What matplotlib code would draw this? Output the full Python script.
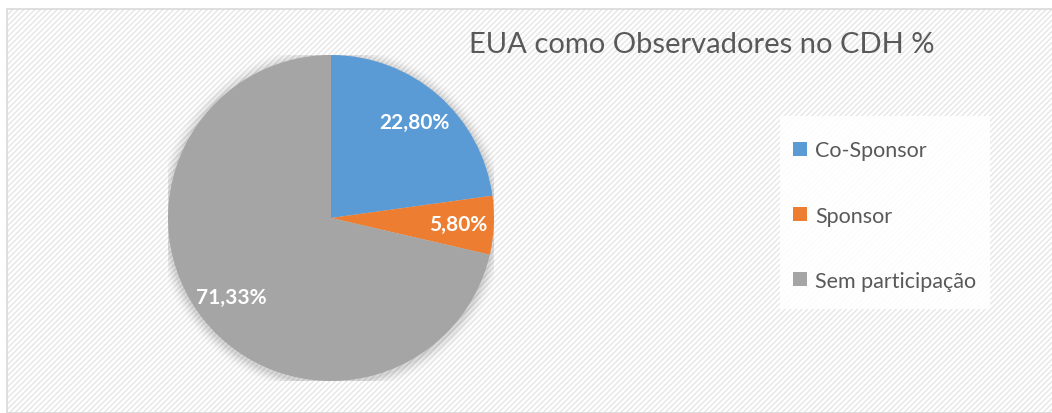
import matplotlib.pyplot as plt
from matplotlib.patches import Rectangle, Patch, Circle

# data
labels = ["Co-Sponsor", "Sponsor", "Sem participação"]
values = [22.80, 5.80, 71.33]
colors = ["#5b9bd5", "#ed7d31", "#a5a5a5"]
title = "EUA como Observadores no CDH %"

plt.rcParams["font.family"] = ["Lato", "DejaVu Sans"]
plt.rcParams["hatch.linewidth"] = 1.0

W, H = 1052, 414
fig = plt.figure(figsize=(W / 100, H / 100), dpi=100)
fig.patch.set_facecolor("white")

# hatched chart-area background
x0, y0 = 7 / W, 0.0
bg = Rectangle((x0, y0), 1 - x0, 1 - 10 / H, transform=fig.transFigure,
               facecolor="white", edgecolor="#e6e6e6", hatch="//////",
               linewidth=0, zorder=-5)
fig.patches.append(bg)
border = Rectangle((x0, y0), 1 - x0 + 0.01, 1 - 10 / H, transform=fig.transFigure,
                   facecolor="none", edgecolor="#d9d9d9", linewidth=1.2, zorder=-4)
fig.patches.append(border)
# legend background box
legbox = Rectangle((780 / W, 1 - 310 / H), 210 / W, 193 / H, transform=fig.transFigure,
                   facecolor="white", edgecolor="none", alpha=0.9, zorder=-3)
fig.patches.append(legbox)

# pie
cx, cy, r = 331, 219, 163
ax = fig.add_axes([(cx - r) / W, (H - cy - r) / H, 2 * r / W, 2 * r / H])
ax.set_zorder(2)
ax.patch.set_visible(False)

# soft shadow
for i, a in enumerate([0.05, 0.04, 0.03, 0.02, 0.01]):
    ax.add_patch(Circle((0.0, -0.01), 1 + 0.015 * (i + 1), color="black",
                        alpha=a, lw=0, zorder=0))

total = sum(values)
wedges, texts, autotexts = ax.pie(
    values, colors=colors, startangle=90, counterclock=False, radius=1,
    autopct=lambda p: f"{p * total / 100:.2f}%".replace(".", ","),
    pctdistance=0.78, wedgeprops=dict(linewidth=0),
    textprops=dict(color="white", fontsize=15, fontweight="bold"))
for w in wedges:
    w.set_zorder(2)
for t in autotexts:
    t.set_zorder(3)
ax.set_xlim(-1, 1)
ax.set_ylim(-1, 1)
ax.set_aspect("equal")
ax.axis("off")

# title
fig.text(702 / W, 1 - 45 / H, title, ha="center", va="center",
         fontsize=21, color="#595959")

# legend
handles = [Patch(facecolor=c, edgecolor="none") for c in colors]
leg = fig.legend(handles, labels, loc="upper left",
                 bbox_to_anchor=(787 / W, 1 - 135 / H),
                 frameon=False, fontsize=15.5, labelspacing=2.1,
                 handlelength=0.65, handleheight=0.65, handletextpad=0.35,
                 borderpad=0.3, borderaxespad=0)
for t in leg.get_texts():
    t.set_color("#595959")

fig.savefig("out.png", dpi=100)
